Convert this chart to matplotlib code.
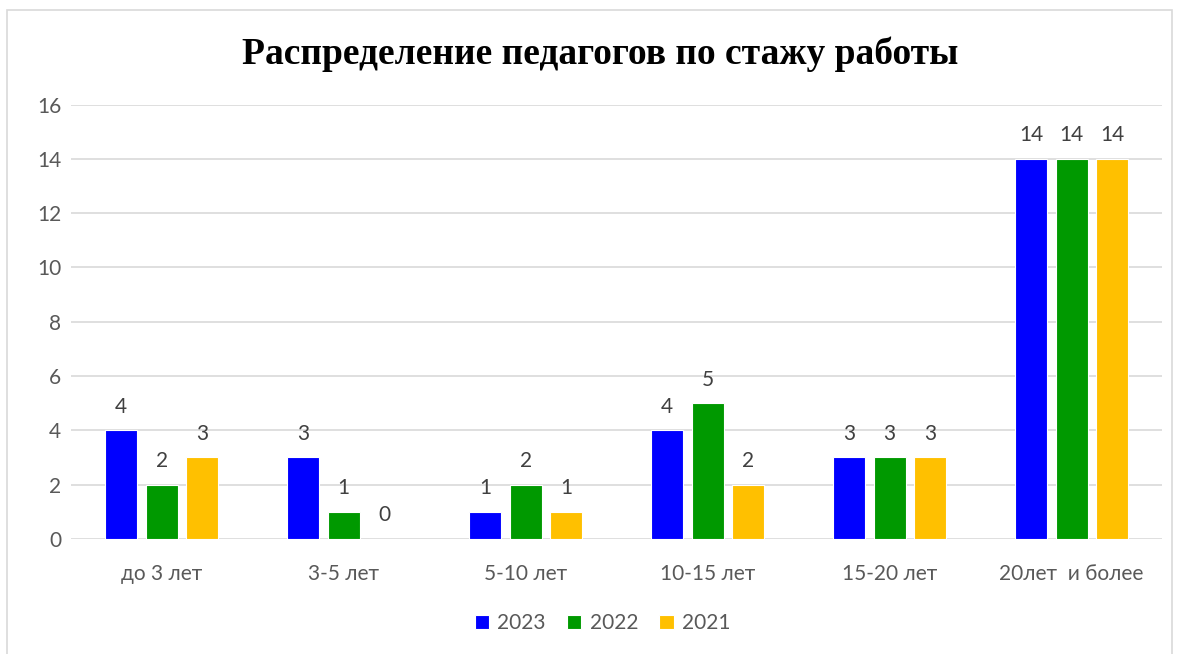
import numpy as np
import matplotlib.pyplot as plt
from matplotlib.patches import Rectangle

# Data
categories = ["до 3 лет", "3-5 лет", "5-10 лет", "10-15 лет", "15-20 лет", "20лет  и более"]
years = ["2023", "2022", "2021"]
v2023 = [4, 3, 1, 4, 3, 14]
v2022 = [2, 1, 2, 5, 3, 14]
v2021 = [3, 0, 1, 2, 3, 14]
colors = ["#0000FF", "#009900", "#FFC000"]

fig = plt.figure(figsize=(11.79, 6.54), dpi=100)
ax = fig.add_axes([0.060, 0.176, 0.926, 0.664])

# outer chart border
fig.patches.append(Rectangle((7 / 1179, -0.05), 1165 / 1179, 1.05 - 10 / 654,
                             transform=fig.transFigure, fill=False,
                             edgecolor="#D9D9D9", linewidth=1.2))

x = np.arange(len(categories))
w = 0.176
step = 0.223
txt = "#595959"
font = "Lato"
fs = 15

for i, (vals, c, lab) in enumerate(zip([v2023, v2022, v2021], colors, years)):
    pos = x + (i - 1) * step
    bars = ax.bar(pos, vals, width=w, color=c, edgecolor="white", linewidth=0.8,
                  label=lab, zorder=3)
    for p, v in zip(pos, vals):
        ax.text(p, v + 0.5, str(v), ha="center", va="bottom", fontsize=fs,
                color="#404040", family=font)

ax.set_ylim(0, 16)
ax.set_xlim(-0.5, len(categories) - 0.5)
ax.set_yticks(range(0, 17, 2))
ax.set_xticks(x)
ax.set_xticklabels(categories, fontsize=fs, color=txt, family=font)
for t in ax.get_yticklabels():
    t.set_fontsize(fs)
    t.set_color(txt)
    t.set_family(font)
ax.tick_params(axis="both", length=0)
ax.tick_params(axis="x", pad=18)
ax.tick_params(axis="y", pad=7)
ax.grid(axis="y", color="#D9D9D9", linewidth=1.2, zorder=0)
for s in ax.spines.values():
    s.set_visible(False)

fig.text(0.509, 0.917, "Распределение педагогов по стажу работы", ha="center", va="center",
         fontsize=27, fontweight="bold", family="Liberation Serif")

leg = fig.legend(loc="center", bbox_to_anchor=(0.511, 0.047), ncol=3, frameon=False,
                 handlelength=0.7, handleheight=0.7, handletextpad=0.4, columnspacing=1.0,
                 prop={"family": font, "size": fs})
for t in leg.get_texts():
    t.set_color(txt)

fig.savefig("out.png", dpi=100)
